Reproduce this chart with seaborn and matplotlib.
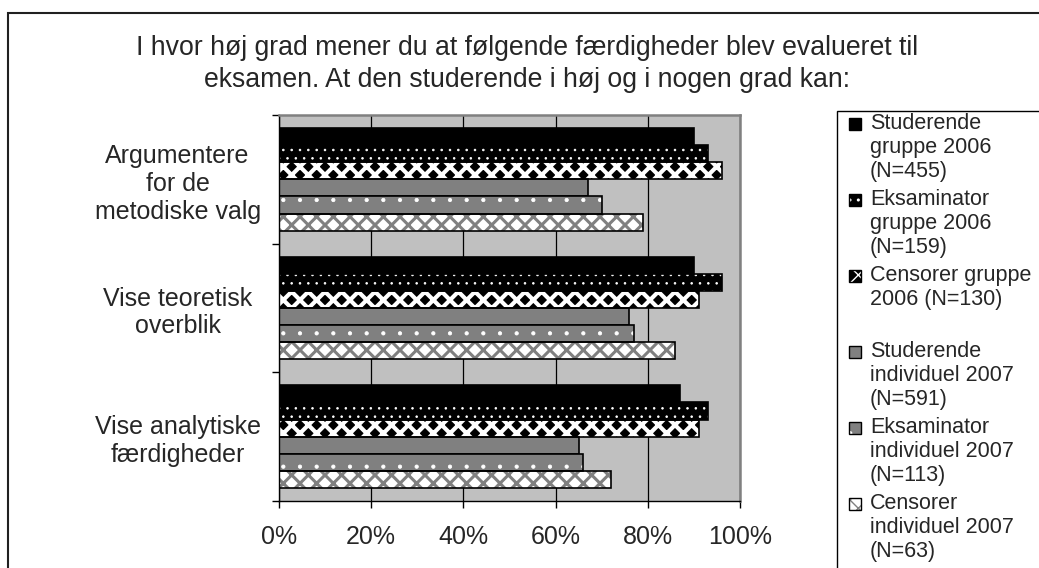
#!/usr/bin/env python3
"""
Horizontal grouped bar chart: evaluation of skills at exams (2006 vs 2007).
"""

import pandas as pd
import matplotlib.pyplot as plt
import seaborn as sns
from matplotlib.patches import Rectangle
from matplotlib.ticker import PercentFormatter

skills = ["Argumentere\nfor de\nmetodiske valg",
          "Vise teoretisk\noverblik",
          "Vise analytiske\nfærdigheder"]

groups = ["Studerende\ngruppe 2006\n(N=455)",
          "Eksaminator\ngruppe 2006\n(N=159)",
          "Censorer gruppe\n2006 (N=130)",
          "Studerende\nindividuel 2007\n(N=591)",
          "Eksaminator\nindividuel 2007\n(N=113)",
          "Censorer\nindividuel 2007\n(N=63)"]

stud_2006 = [0.90, 0.90, 0.87]
eks_2006 = [0.93, 0.96, 0.93]
cens_2006 = [0.96, 0.91, 0.91]
stud_2007 = [0.67, 0.76, 0.65]
eks_2007 = [0.70, 0.77, 0.66]
cens_2007 = [0.79, 0.86, 0.72]

title_lines = ["I hvor høj grad mener du at følgende færdigheder blev evalueret til",
               "eksamen. At den studerende i høj og i nogen grad kan:"]

# fill colour, hatch, hatch colour, hatch line width per series
styles = [("black", None, "black", 1.0),
          ("black", "..", "white", 0.6),
          ("black", "xx", "white", 3.0),
          ("#808080", None, "#808080", 1.0),
          ("#808080", ".", "white", 0.6),
          ("white", "xx", "#808080", 2.2)]

values = [stud_2006, eks_2006, cens_2006, stud_2007, eks_2007, cens_2007]
rows = []
for g, vals in zip(groups, values):
    for s, v in zip(skills, vals):
        rows.append({"skill": s, "group": g, "andel": v})
df = pd.DataFrame(rows)

sns.set_theme(style="white")
plt.rcParams["font.family"] = ["Liberation Sans", "DejaVu Sans"]

W, H = 1039, 568
fig = plt.figure(figsize=(W / 100, H / 100), dpi=100)
ax = fig.add_axes([279 / W, 1 - 501 / H, (740 - 279) / W, (501 - 115) / H])

palette = {g: st[0] for g, st in zip(groups, styles)}
sns.barplot(data=df, x="andel", y="skill", hue="group", order=skills,
            hue_order=groups, palette=palette, orient="y", saturation=1,
            width=0.8, errorbar=None, legend=False, ax=ax,
            edgecolor="black", linewidth=1.2, zorder=2)

# apply patterns, keep a black outline on top
for cont, (fc, hatch, hc, hlw) in zip(ax.containers, styles):
    for bar in cont:
        if hatch:
            bar.set_hatch(hatch)
            bar.set_edgecolor(hc)
            bar.set_linewidth(0)
            if hasattr(bar, "set_hatch_linewidth"):
                bar.set_hatch_linewidth(hlw)
            ax.add_patch(Rectangle(bar.get_xy(), bar.get_width(), bar.get_height(),
                                   fill=False, ec="black", lw=1.2, zorder=3))

ax.set_facecolor("#C0C0C0")
ax.set_xlim(0, 1)
ax.xaxis.set_major_formatter(PercentFormatter(1.0, decimals=0))
ax.set_xticks([0, 0.2, 0.4, 0.6, 0.8, 1.0])
ax.xaxis.grid(True, color="black", lw=0.9)
ax.set_axisbelow(True)
ax.set_xlabel("")
ax.set_ylabel("")

ax.set_yticks([-0.5, 0.5, 1.5, 2.5], minor=True)
ax.tick_params(axis="y", which="major", length=0, pad=73, labelsize=18)
ax.tick_params(axis="y", which="minor", left=True, length=5, width=1, color="black")
ax.tick_params(axis="x", bottom=True, length=5, width=1, color="black", pad=12,
               labelsize=18)
for lbl in ax.get_yticklabels():
    lbl.set_ha("center")
    lbl.set_multialignment("center")

for side in ["left", "bottom"]:
    ax.spines[side].set_color("black")
    ax.spines[side].set_linewidth(1)
for side in ["top", "right"]:
    ax.spines[side].set_color("#808080")
    ax.spines[side].set_linewidth(1.8)

# title
fig.text(527 / W, 1 - 48 / H, title_lines[0], ha="center", va="center", fontsize=19.2)
fig.text(527 / W, 1 - 80 / H, title_lines[1], ha="center", va="center", fontsize=19.2)

# outer chart border
fig.add_artist(Rectangle((8 / W, -0.1), 1.1, 1.1 - 13 / H, transform=fig.transFigure,
                         fill=False, ec="#202020", lw=1.5))

# legend box, Excel style (handle beside first line of each entry)
fig.add_artist(Rectangle((837 / W, -0.1), 1.0, 1.1 - 111 / H, transform=fig.transFigure,
                         fill=False, ec="black", lw=1))
for i, (label, (fc, hatch, hc, hlw)) in enumerate(zip(groups, styles)):
    y0 = 124 + i * 76
    box = Rectangle((849 / W, 1 - (y0 + 6) / H), 12 / W, 12 / H,
                    transform=fig.transFigure, fc=fc, ec=hc if hatch else "black",
                    lw=0, hatch=hatch)
    fig.add_artist(box)
    fig.add_artist(Rectangle((849 / W, 1 - (y0 + 6) / H), 12 / W, 12 / H,
                             transform=fig.transFigure, fill=False, ec="black", lw=1))
    fig.text(870 / W, 1 - (y0 - 11) / H, label, ha="left", va="top",
             fontsize=15.5, linespacing=1.19)

plt.savefig("out.png", dpi=100)
